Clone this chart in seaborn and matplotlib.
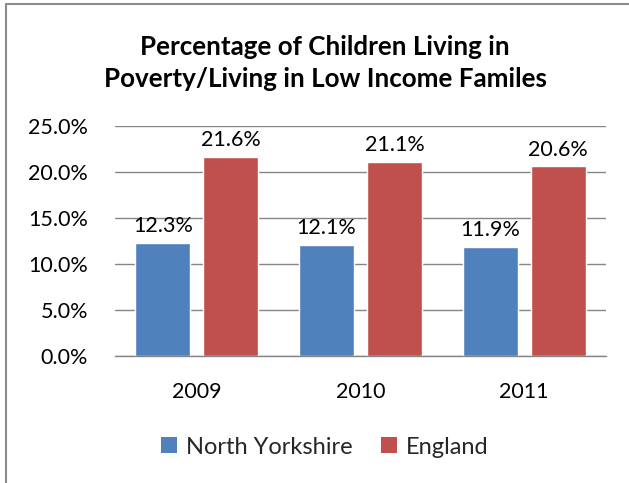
import matplotlib
matplotlib.use("Agg")
import matplotlib.pyplot as plt
import seaborn as sns
import pandas as pd
from matplotlib.ticker import FuncFormatter
from matplotlib.lines import Line2D
from matplotlib.patches import Patch

years = ["2009", "2010", "2011"]
series_names = ["North Yorkshire", "England"]
north_yorkshire = [12.3, 12.1, 11.9]
england = [21.6, 21.1, 20.6]
colors = ["#4F81BD", "#C0504D"]
title = "Percentage of Children Living in\nPoverty/Living in Low Income Familes"

df = pd.DataFrame({
    "year": years * 2,
    "area": [series_names[0]] * 3 + [series_names[1]] * 3,
    "value": north_yorkshire + england,
})

sns.set_theme(style="white")
plt.rcParams["font.family"] = ["Lato", "DejaVu Sans"]

fig = plt.figure(figsize=(6.29, 4.83), dpi=100)
ax = fig.add_axes([115 / 629, (483 - 356) / 483, 491 / 629, 230 / 483])

sns.barplot(data=df, x="year", y="value", hue="area", palette=colors,
            width=0.83, gap=0.19, ax=ax, legend=False, saturation=1)

ax.set_ylim(0, 25)
ax.set_yticks([0, 5, 10, 15, 20, 25])
ax.yaxis.set_major_formatter(FuncFormatter(lambda v, _: f"{v:.1f}%"))
ax.grid(axis="y", color="#868686", linewidth=1)
ax.set_axisbelow(True)
for s in ["top", "right", "left"]:
    ax.spines[s].set_visible(False)
ax.spines["bottom"].set_color("#868686")
ax.spines["bottom"].set_linewidth(1)
ax.tick_params(axis="y", length=0, pad=19.5, labelsize=15.5, labelcolor="black")
ax.tick_params(axis="x", length=0, pad=19, labelsize=15.5, labelcolor="black")
ax.set_xlabel("")
ax.set_ylabel("")

for cont in ax.containers:
    ax.bar_label(cont, labels=[f"{b.get_height():.1f}%" for b in cont],
                 padding=5, fontsize=15.5, color="black")

fig.text(325 / 629, 1 - 63 / 483, title, ha="center", va="center",
         fontsize=18.7, fontweight="bold", color="black", linespacing=1.4)

handles = [Patch(facecolor=c, edgecolor="none") for c in colors]
fig.legend(handles, series_names, loc="center", bbox_to_anchor=(325 / 629, 1 - 447 / 483),
           ncol=2, frameon=False, fontsize=17, handlelength=0.65, handleheight=0.65,
           handletextpad=0.4, columnspacing=1.2)

# chart frame along the top and left edges
fig.add_artist(Line2D([6 / 629, 1], [1 - 4 / 483, 1 - 4 / 483], color="#8C8C8C",
                      linewidth=1.5, transform=fig.transFigure))
fig.add_artist(Line2D([6 / 629, 6 / 629], [0, 1 - 4 / 483], color="#8C8C8C",
                      linewidth=1.5, transform=fig.transFigure))

fig.savefig("out.png", dpi=100, facecolor="white")
